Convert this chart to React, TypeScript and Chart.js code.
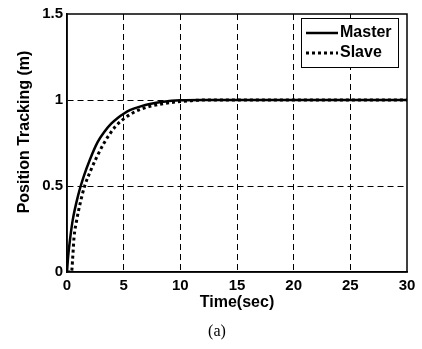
import React, { useEffect, useRef } from "react";
import { Chart, registerables } from "chart.js";

Chart.register(...registerables);

const masterT = [0, 0.1, 0.25, 0.5, 1.0, 1.5, 2.0, 2.7, 3.3, 3.9, 4.5, 5, 5.6, 6.5, 7.3, 8.5, 10, 12, 15, 20, 25, 30];
const masterV = [0, 0.09, 0.18, 0.3, 0.45, 0.56, 0.65, 0.755, 0.815, 0.862, 0.897, 0.92, 0.942, 0.963, 0.977, 0.99, 0.998, 1.0, 1.0, 1.0, 1.0, 1.0];
const slaveT = [0, 0.4, 0.5, 0.62, 0.85, 1.2, 1.56, 2.09, 2.6, 3.27, 3.8, 4.3, 4.9, 5.47, 6.1, 6.8, 7.5, 8.5, 10, 11, 12, 15, 20, 25, 30];
const slaveV = [0, 0, 0.08, 0.2, 0.3, 0.41, 0.5, 0.59, 0.665, 0.75, 0.805, 0.848, 0.885, 0.912, 0.935, 0.953, 0.966, 0.979, 0.991, 0.996, 1.0, 1.0, 1.0, 1.0, 1.0];

const seriesNames = ["Master", "Slave"];
const xTitle = "Time(sec)";
const yTitle = "Position Tracking (m)";
const caption = "(a)";

const FONT = "'Liberation Sans', Arial, sans-serif";

const overlay = {
  id: "overlay",
  afterDraw(chart: any) {
    const { ctx, chartArea } = chart;
    const { left, right, top, bottom } = chartArea;
    ctx.save();
    ctx.strokeStyle = "#000";
    ctx.lineWidth = 1.5;
    ctx.setLineDash([]);
    ctx.strokeRect(left, top, right - left, bottom - top);

    const lx = right - 106;
    const ly = top + 4;
    const lw = 97;
    const lh = 49;
    ctx.fillStyle = "#fff";
    ctx.fillRect(lx, ly, lw, lh);
    ctx.lineWidth = 1;
    ctx.strokeRect(lx + 0.5, ly + 0.5, lw, lh);
    const rows = [ly + 15, ly + 35];
    chart.data.datasets.forEach((ds: any, i: number) => {
      ctx.beginPath();
      ctx.lineWidth = ds.borderWidth;
      ctx.setLineDash(ds.borderDash || []);
      ctx.strokeStyle = "#000";
      ctx.moveTo(lx + 5, rows[i]);
      ctx.lineTo(lx + 37, rows[i]);
      ctx.stroke();
      ctx.setLineDash([]);
      ctx.fillStyle = "#000";
      ctx.font = `bold 16px ${FONT}`;
      ctx.textAlign = "left";
      ctx.textBaseline = "middle";
      ctx.fillText(ds.label, lx + 39, rows[i]);
    });

    ctx.fillStyle = "#000";
    ctx.font = `bold 16px ${FONT}`;
    ctx.textAlign = "center";
    ctx.textBaseline = "middle";
    ctx.fillText(xTitle, (left + right) / 2, bottom + 31);
    ctx.save();
    ctx.translate(25, (top + bottom) / 2 - 11);
    ctx.rotate(-Math.PI / 2);
    ctx.fillText(yTitle, 0, 0);
    ctx.restore();

    ctx.font = `16px 'Liberation Serif', 'Times New Roman', serif`;
    ctx.fillText(caption, (left + right) / 2 - 20, bottom + 60);
    ctx.restore();
  },
};

export default function App() {
  const ref = useRef<HTMLCanvasElement>(null);
  useEffect(() => {
    const canvas = ref.current;
    if (!canvas) return;
    const gridColor = (c: any) =>
      c.tick && (c.tick.value === c.scale.min || c.tick.value === c.scale.max) ? "rgba(0,0,0,0)" : "#000";
    const chart = new Chart(canvas, {
      type: "line",
      data: {
        datasets: [
          {
            label: seriesNames[0],
            data: masterT.map((t, i) => ({ x: t, y: masterV[i] })),
            borderColor: "#000",
            borderWidth: 2.5,
            pointRadius: 0,
            cubicInterpolationMode: "monotone",
            fill: false,
          },
          {
            label: seriesNames[1],
            data: slaveT.map((t, i) => ({ x: t, y: slaveV[i] })),
            borderColor: "#000",
            borderWidth: 3,
            borderDash: [3, 3],
            pointRadius: 0,
            cubicInterpolationMode: "monotone",
            fill: false,
          },
        ],
      },
      options: {
        animation: false,
        responsive: false,
        maintainAspectRatio: false,
        layout: { padding: { left: 0, top: 14, right: 15, bottom: 0 } },
        plugins: { legend: { display: false }, tooltip: { enabled: false } },
        scales: {
          x: {
            type: "linear",
            min: 0,
            max: 30,
            ticks: {
              stepSize: 5,
              color: "#000",
              padding: 5,
              font: { family: FONT, size: 15, weight: "bold" },
              maxRotation: 0,
              callback: (v: any) => String(v),
            },
            grid: { color: gridColor, lineWidth: 1, drawTicks: false },
            border: { display: true, color: "#000", width: 1.5, dash: [6, 4] },
            afterFit: (s: any) => {
              s.height = 77;
            },
          },
          y: {
            type: "linear",
            min: 0,
            max: 1.5,
            ticks: {
              stepSize: 0.5,
              color: "#000",
              padding: 4,
              font: { family: FONT, size: 15, weight: "bold" },
              callback: (v: any) => String(Number(v)),
            },
            grid: { color: gridColor, lineWidth: 1, drawTicks: false },
            border: { display: true, color: "#000", width: 1.5, dash: [6, 4] },
            afterFit: (s: any) => {
              s.width = 67;
            },
          },
        },
      },
      plugins: [overlay],
    } as any);
    return () => chart.destroy();
  }, []);
  return (
    <div style={{ position: "fixed", left: 0, top: 0, width: 422, height: 349, background: "#fff" }}>
      <canvas ref={ref} width={422} height={349} style={{ width: 422, height: 349, display: "block" }} />
    </div>
  );
}
